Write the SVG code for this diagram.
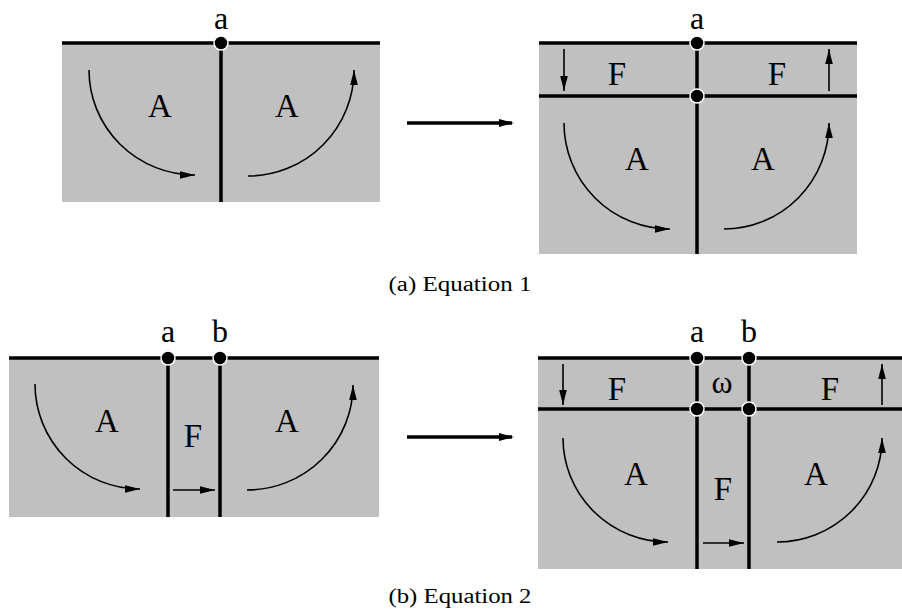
<svg xmlns="http://www.w3.org/2000/svg" width="902" height="610" viewBox="0 0 902 610">
<style>
.bg{fill:#c0c0c0;stroke:none}
.wall{stroke:#000;stroke-width:3.5;fill:none}
.dot{fill:#000;stroke:#fff;stroke-width:1.5}
.arc{stroke:#000;stroke-width:1.6;fill:none;marker-end:url(#ah)}
.big{stroke:#000;stroke-width:3.5;fill:none;marker-end:url(#bh)}
.lbl{font-family:"Liberation Serif","Times New Roman",serif;font-size:33px;text-anchor:middle;fill:#000}
.pt{font-family:"Liberation Serif","Times New Roman",serif;font-size:32px;text-anchor:middle;fill:#000}
.cap{font-family:"Liberation Serif","Times New Roman",serif;font-size:20px;text-anchor:middle;fill:#000}
</style>
<defs>
<marker id="ah" markerUnits="userSpaceOnUse" markerWidth="16" markerHeight="10" viewBox="0 0 16 10" refX="15" refY="5" orient="auto"><path d="M0,1.2 L15,5 L0,8.8 Z" fill="#000"/></marker>
<marker id="bh" markerUnits="userSpaceOnUse" markerWidth="16" markerHeight="10" viewBox="0 0 16 10" refX="13" refY="5" orient="auto"><path d="M0,1 L15,5 L0,9 Z" fill="#000"/></marker>
</defs>
<rect width="902" height="610" fill="#fff"/>

<g id="panel-a-left">
<rect class="bg" x="62" y="43" width="318" height="159"/>
<line class="wall" x1="62" y1="43" x2="380" y2="43"/>
<line class="wall" x1="221" y1="43" x2="221" y2="202"/>
<circle class="dot" cx="221" cy="43" r="7"/>
<text class="pt" x="221" y="28.5">a</text>
<text class="lbl" x="160" y="117">A</text>
<text class="lbl" x="287" y="117">A</text>
</g>

<g id="panel-a-right">
<rect class="bg" x="539" y="43" width="318" height="211"/>
<line class="wall" x1="539" y1="43" x2="857" y2="43"/>
<line class="wall" x1="539" y1="96" x2="857" y2="96"/>
<line class="wall" x1="697" y1="43" x2="697" y2="254"/>
<circle class="dot" cx="697" cy="43" r="7"/>
<circle class="dot" cx="697" cy="96" r="7"/>
<text class="pt" x="697" y="28.5">a</text>
<text class="lbl" x="617" y="85">F</text>
<text class="lbl" x="777" y="85">F</text>
<text class="lbl" x="637" y="170">A</text>
<text class="lbl" x="763" y="170">A</text>
</g>

<g id="panel-b-left">
<rect class="bg" x="9" y="358" width="370" height="159"/>
<line class="wall" x1="9" y1="358" x2="379" y2="358"/>
<line class="wall" x1="168" y1="358" x2="168" y2="517"/>
<line class="wall" x1="220" y1="358" x2="220" y2="517"/>
<circle class="dot" cx="168" cy="358" r="7"/>
<circle class="dot" cx="220" cy="358" r="7"/>
<text class="pt" x="168" y="342">a</text>
<text class="pt" x="220" y="342">b</text>
<text class="lbl" x="107" y="432">A</text>
<text class="lbl" x="193" y="447">F</text>
<text class="lbl" x="287" y="432">A</text>
</g>

<g id="panel-b-right">
<rect class="bg" x="538" y="358" width="364" height="211"/>
<line class="wall" x1="538" y1="358" x2="902" y2="358"/>
<line class="wall" x1="538" y1="409" x2="902" y2="409"/>
<line class="wall" x1="697" y1="358" x2="697" y2="569"/>
<line class="wall" x1="749" y1="358" x2="749" y2="569"/>
<circle class="dot" cx="697" cy="358" r="7"/>
<circle class="dot" cx="749" cy="358" r="7"/>
<circle class="dot" cx="697" cy="409" r="7"/>
<circle class="dot" cx="749" cy="409" r="7"/>
<text class="pt" x="697" y="342">a</text>
<text class="pt" x="749" y="342">b</text>
<text class="lbl" x="617" y="400">F</text>
<text class="pt" x="722" y="393">ω</text>
<text class="lbl" x="830" y="400">F</text>
<text class="lbl" x="636" y="485">A</text>
<text class="lbl" x="723" y="500">F</text>
<text class="lbl" x="816" y="485">A</text>
</g>

<g id="connectors">
<path class="arc" d="M89,70 A106,105 0 0,0 195,175"/>
<path class="arc" d="M248,176 A106,106 0 0,0 354,70"/>
<path class="big" d="M407,123 L512,123"/>
<path class="arc" d="M564,49 L564,91"/>
<path class="arc" d="M829,91 L829,49"/>
<path class="arc" d="M564,123 A106,106 0 0,0 670,229"/>
<path class="arc" d="M724,229 A105,106 0 0,0 829,123"/>

<path class="arc" d="M35,384 A105,105 0 0,0 140,489"/>
<path class="arc" d="M247,490 A106,105 0 0,0 353,385"/>
<path class="arc" d="M173,490 L215,490"/>
<path class="big" d="M407,437 L512,437"/>
<path class="arc" d="M563,364 L563,405"/>
<path class="arc" d="M882,405 L882,364"/>
<path class="arc" d="M563,438 A105,104 0 0,0 668,542"/>
<path class="arc" d="M777,542 A105,104 0 0,0 882,438"/>
<path class="arc" d="M703,543 L744,543"/>
</g>

<g id="captions">
<text class="cap" x="460" y="291" textLength="143" lengthAdjust="spacingAndGlyphs">(a) Equation 1</text>
<text class="cap" x="460" y="603" textLength="143" lengthAdjust="spacingAndGlyphs">(b) Equation 2</text>
</g>
</svg>
